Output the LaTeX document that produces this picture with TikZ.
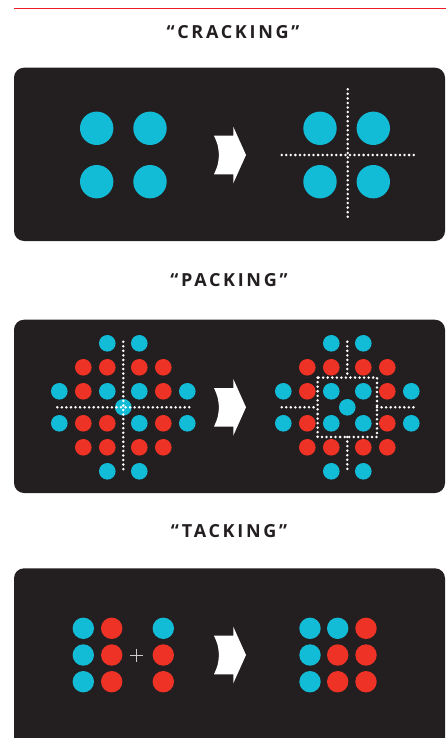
\documentclass[tikz,border=0pt]{standalone}
\usepackage{fontspec}
\newfontfamily\titlefont[LetterSpace=15]{Open Sans}
\definecolor{panelbg}{HTML}{231F20}
\definecolor{cyanc}{HTML}{13BCD6}
\definecolor{redc}{HTML}{EE3226}
\definecolor{rule}{HTML}{ED1C24}
\begin{document}
\begin{tikzpicture}[x=1pt,y=-1pt,
  panel/.style={fill=panelbg,rounded corners=10pt},
  cy/.style={fill=cyanc},
  rd/.style={fill=redc},
  dots/.style={white,line width=2.8pt,line cap=round,dash pattern=on 0pt off 4.55pt},
  title/.style={font=\titlefont\bfseries\fontsize{18}{20}\selectfont,text=panelbg},
  chev/.pic={\fill[white] (-16,-19.3) -- (3.3,-19.3) -- (3.3,-28.3) -- (16,0) -- (3.3,28.3) -- (3.3,19.3) -- (-16,19.3)
     .. controls (-12,10) .. (-11,0) .. controls (-12,-10) .. (-16,-19.3) -- cycle;}
]
\useasboundingbox (0,0) rectangle (446,738);
% top rule
\draw[rule,line width=1.2pt] (14,8.3) -- (446,8.3);
% titles
\node[title] (t1) at (233,32) {“CRACKING”};
\node[title] (t2) at (229,280) {“PACKING”};
\node[title] (t3) at (229,531) {“TACKING”};
% panels
\fill[panel] (14,67.7) rectangle (445,241);
\fill[panel] (14,319.7) rectangle (445,493);
\fill[panel] (14,568.3) rectangle (445,752);

% ---- panel 1 ----
\foreach \x in {96.7,150} \foreach \y in {128.3,181.7} \fill[cy] (\x,\y) circle (16.7);
\pic at (230,155) {chev};
\foreach \x in {320,373.3} \foreach \y in {128.3,181.7} \fill[cy] (\x,\y) circle (16.7);
\draw[dots] (347.7,89.3) -- (347.7,220.7);
\draw[dots] (281.7,155) -- (414.3,155);

% ---- panel 2 left ----
\begin{scope}[shift={(123.3,407.3)}]
  \foreach \c/\r/\s in {-16/-64/cy,16/-64/cy,
     -40/-40/rd,-16/-40/rd,16/-40/rd,40/-40/rd,
     -64/-16/cy,-40/-16/rd,-16/-16/cy,16/-16/cy,40/-16/rd,64/-16/cy,
     -64/16/cy,-40/16/rd,-16/16/rd,16/16/cy,40/16/rd,64/16/cy,
     -40/40/rd,-16/40/rd,16/40/rd,40/40/rd,
     -16/64/cy,16/64/cy}
    \fill[\s] (\c,\r) circle (8.3);
  \fill[cy] (0,0) circle (8.3);
  \draw[dots] (0,-65.6) -- (0,66);
  \draw[dots] (-66,0) -- (66.7,0);
\end{scope}
\pic at (230,407.3) {chev};
% ---- panel 2 right ----
\begin{scope}[shift={(347.3,407.3)}]
  \foreach \c/\r/\s in {-16/-64/cy,16/-64/cy,
     -40/-40/rd,-16/-40/rd,16/-40/rd,40/-40/rd,
     -64/-16/cy,-40/-16/rd,-16/-16/cy,16/-16/cy,40/-16/rd,64/-16/cy,
     -64/16/cy,-40/16/rd,-16/16/cy,16/16/cy,40/16/rd,64/16/cy,
     -40/40/rd,-16/40/rd,16/40/rd,40/40/rd,
     -16/64/cy,16/64/cy}
    \fill[\s] (\c,\r) circle (8.3);
  \fill[cy] (0,0) circle (8.3);
  \draw[dots] (-29.7,-29.7) rectangle (29.7,29.7);
  \draw[dots] (0,-65.6) -- (0,-29.7);
  \draw[dots] (0,29.7) -- (0,66);
  \draw[dots] (-65.6,0) -- (-29.7,0);
  \draw[dots] (29.7,0) -- (66.7,0);
\end{scope}

% ---- panel 3 ----
\foreach \x/\y/\s in {83.3/628.3/cy,83.3/655/cy,83.3/681.7/cy,
   111.7/628.3/rd,111.7/655/rd,111.7/681.7/rd,
   163.3/628.3/cy,163.3/655/rd,163.3/681.7/rd}
  \fill[\s] (\x,\y) circle (10.7);
\draw[white!80!black,line width=0.9pt] (130.2,655) -- (143.2,655) (136.7,648.5) -- (136.7,661.5);
\pic at (230,655) {chev};
\foreach \x/\y/\s in {310/628.3/cy,310/655/cy,310/681.7/cy,
   337.7/628.3/cy,337.7/655/rd,337.7/681.7/rd,
   366/628.3/rd,366/655/rd,366/681.7/rd}
  \fill[\s] (\x,\y) circle (10.7);
\end{tikzpicture}
\end{document}
